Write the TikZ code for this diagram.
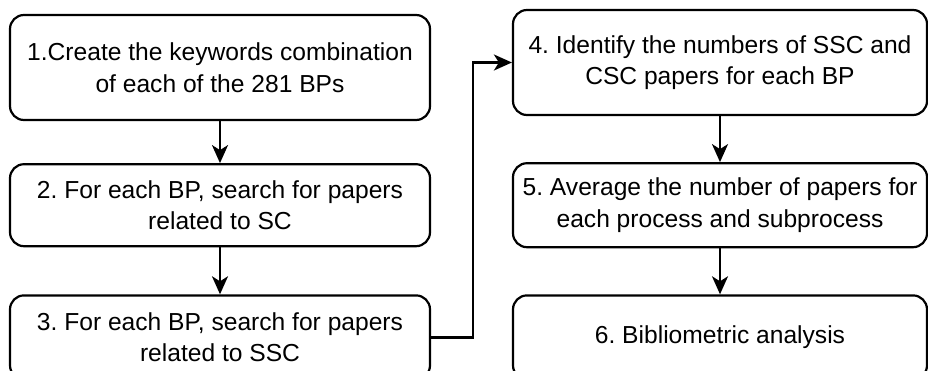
\documentclass[tikz,border=0pt]{standalone}
\usepackage{fontspec}
\setmainfont{Liberation Sans}
\usetikzlibrary{positioning,arrows.meta}
\frenchspacing

\begin{document}
\begin{tikzpicture}[
    x=1pt, y=-1pt,
    box/.style = {draw, line width=2.2pt, rounded corners=14pt, align=center, inner xsep=2pt,
                  font=\fontsize{24.6pt}{31.5pt}\selectfont},
    lbox/.style = {box, minimum width=420pt},
    rbox/.style = {box, minimum width=414pt},
    > = {Stealth[length=18pt, width=16pt, inset=5pt]}
]
\useasboundingbox (0,0) rectangle (928,370);

\node (kw) [lbox, minimum height=105pt] at (220,67.5) {1.Create the keywords combination \\ of each of the 281 BPs};
\node (sc) [lbox, minimum height=82pt, below=42pt of kw] {2. For each BP, search for papers \\ related to SC};
\node (ssc) [lbox, minimum height=84pt, below=47pt of sc] {3. For each BP, search for papers \\ related to SSC};

\node (num) [rbox, minimum height=105pt] at (720,62.5) {4. Identify the numbers of SSC and \\ CSC papers for each BP};
\node (avg) [rbox, minimum height=84pt, below=46pt of num] {5. Average the number of papers for \\ each process and subprocess};
\node (bib) [rbox, minimum height=84pt, below=46pt of avg] {6. Bibliometric analysis};

\draw[->, line width=2.2pt] (kw) to (sc);
\draw[->, line width=2.2pt] (sc) to (ssc);
\draw[->, line width=2.2pt] (ssc.east) -- ++(42,0) |- (num.west);
\draw[->, line width=2.2pt] (num) to (avg);
\draw[->, line width=2.2pt] (avg) to (bib);
\end{tikzpicture}
\end{document}
